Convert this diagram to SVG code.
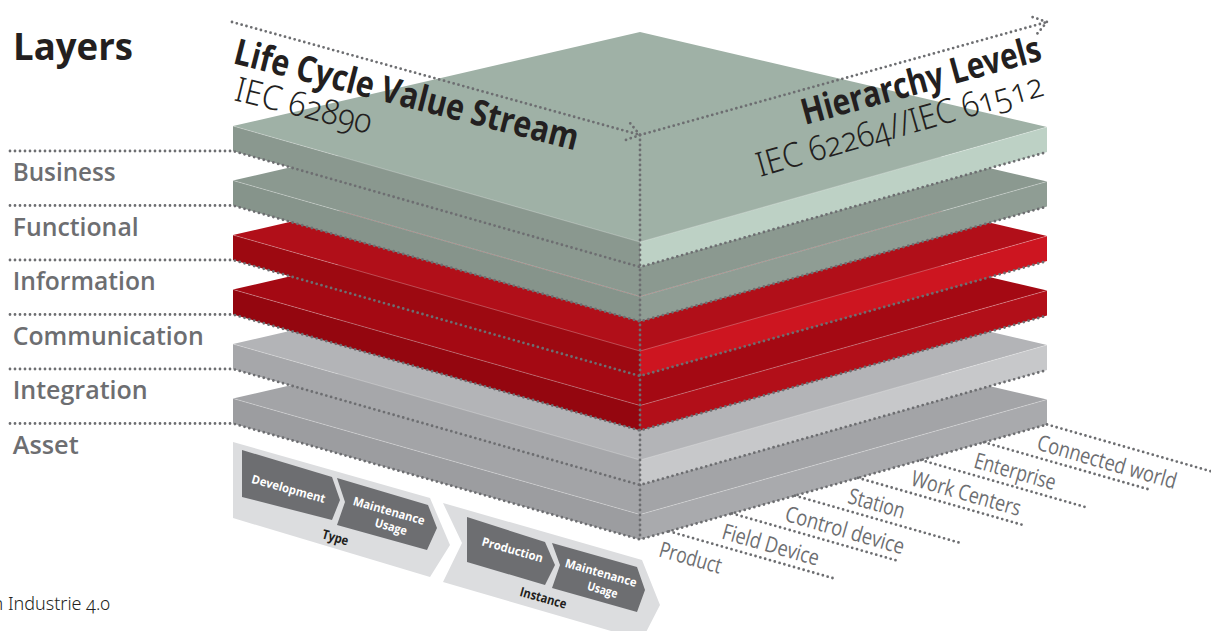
<svg xmlns="http://www.w3.org/2000/svg" width="1211" height="631" viewBox="0 0 1211 631">
  <style>
    text { font-family: "Open Sans", "Noto Sans", "Liberation Sans", sans-serif; }
    .business .t { fill: #9fb1a6; } .business .l { fill: #8a988f; } .business .r { fill: #bdd1c5; }
    .functional .t { fill: #8b9990; } .functional .l { fill: #86948b; } .functional .r { fill: #8f9d94; }
    .information .t { fill: #b10f19; } .information .l { fill: #9d0911; } .information .r { fill: #cd1520; }
    .communication .t { fill: #a40913; } .communication .l { fill: #94060f; } .communication .r { fill: #b20f19; }
    .integration .t { fill: #b3b4b7; } .integration .l { fill: #a6a7aa; } .integration .r { fill: #c7c8ca; }
    .asset .t { fill: #a3a4a7; } .asset .l { fill: #9c9da0; } .asset .r { fill: #a9aaad; }
    .edge { fill: none; stroke: #ffffff; stroke-opacity: 0.35; stroke-width: 0.8; }
    .dot { fill: none; stroke: #6d6e71; stroke-width: 2.8; stroke-linecap: round; stroke-linejoin: round; stroke-dasharray: 0 5; }
    .layer-label { font-size: 25px; font-weight: 600; fill: #6d6e71; }
    .level-label { font-size: 22px; font-weight: 500; fill: #6d6e71; }
    .heading { font-size: 36px; font-weight: 700; fill: #231f20; }
    .norm { font-family: "Noto Sans", "Open Sans", sans-serif; font-size: 34px; font-weight: 300; fill: #231f20; font-variant-numeric: oldstyle-nums; }
    .band { fill: #dcdddf; }
    .step { fill: #6d6e71; }
    .step-text { font-size: 12px; font-weight: 700; fill: #ffffff; text-anchor: middle; }
    .band-text { font-size: 13px; font-weight: 700; fill: #231f20; text-anchor: middle; }
    .source { font-family: "Noto Sans", "Open Sans", sans-serif; font-size: 18px; font-weight: 300; fill: #231f20; font-variant-numeric: oldstyle-nums; }
  </style>
  <defs>
    <marker id="dot-arrow" markerUnits="userSpaceOnUse" orient="auto" refX="0" refY="0" markerWidth="30" markerHeight="30" overflow="visible">
      <path class="dot" d="M-12.5,-8.6 L0,0 L-12.5,8.6"/>
    </marker>
  </defs>

  <!-- Layer slabs, painted from the bottom up; each slab is top, left and right face -->
  <g id="layer-asset" class="asset" transform="translate(0,272.5)">
    <polygon class="t" points="640,32 1047,127 640,242 233,126"/>
    <polygon class="l" points="233,126 640,242 640,267 233,151"/>
    <polygon class="r" points="640,242 1047,127 1047,152 640,267"/>
    <polyline class="edge" points="233,126 640,242 1047,127"/>
  </g>
  <g id="layer-integration" class="integration" transform="translate(0,218)">
    <polygon class="t" points="640,32 1047,127 640,242 233,126"/>
    <polygon class="l" points="233,126 640,242 640,267 233,151"/>
    <polygon class="r" points="640,242 1047,127 1047,152 640,267"/>
    <polyline class="edge" points="233,126 640,242 1047,127"/>
  </g>
  <g id="layer-communication" class="communication" transform="translate(0,163.5)">
    <polygon class="t" points="640,32 1047,127 640,242 233,126"/>
    <polygon class="l" points="233,126 640,242 640,267 233,151"/>
    <polygon class="r" points="640,242 1047,127 1047,152 640,267"/>
    <polyline class="edge" points="233,126 640,242 1047,127"/>
  </g>
  <g id="layer-information" class="information" transform="translate(0,109)">
    <polygon class="t" points="640,32 1047,127 640,242 233,126"/>
    <polygon class="l" points="233,126 640,242 640,267 233,151"/>
    <polygon class="r" points="640,242 1047,127 1047,152 640,267"/>
    <polyline class="edge" points="233,126 640,242 1047,127"/>
  </g>
  <g id="layer-functional" class="functional" transform="translate(0,54.5)">
    <polygon class="t" points="640,32 1047,127 640,242 233,126"/>
    <polygon class="l" points="233,126 640,242 640,267 233,151"/>
    <polygon class="r" points="640,242 1047,127 1047,152 640,267"/>
    <polyline class="edge" points="233,126 640,242 1047,127"/>
  </g>
  <g id="layer-business" class="business">
    <polygon class="t" points="640,32 1047,127 640,242 233,126"/>
    <polygon class="l" points="233,126 640,242 640,267 233,151"/>
    <polygon class="r" points="640,242 1047,127 1047,152 640,267"/>
    <polyline class="edge" points="233,126 640,242 1047,127"/>
  </g>

  <!-- Life cycle phases under the cube -->
  <g id="phase-type">
    <polygon class="band" points="233,442 430,498 450,545 430,577 233,518"/>
    <polygon class="step" points="242,450 332,477 340,500 332,520 242,497"/>
    <polygon class="step" points="337,478 428,505 437,528 427,550 337,525 345,502"/>
    <text class="step-text" transform="translate(288.5,489) rotate(15.5)" y="4" textLength="76" lengthAdjust="spacingAndGlyphs">Development</text>
    <text class="step-text" transform="translate(389,511) rotate(16)" y="4" textLength="74" lengthAdjust="spacingAndGlyphs">Maintenance</text>
    <text class="step-text" transform="translate(391,527) rotate(16)" y="4" textLength="33" lengthAdjust="spacingAndGlyphs">Usage</text>
    <text class="band-text" transform="translate(335.5,537) rotate(16)" y="5" textLength="27" lengthAdjust="spacingAndGlyphs">Type</text>
  </g>
  <g id="phase-instance">
    <polygon class="band" points="443,503 642,560 660,605 642,640 443,582 462,543"/>
    <polygon class="step" points="467,517 545,542 555,565 545,585 467,562"/>
    <polygon class="step" points="552,543 637,567 645,590 637,612 552,588 560,565"/>
    <text class="step-text" transform="translate(512.5,550) rotate(16)" y="4" textLength="63" lengthAdjust="spacingAndGlyphs">Production</text>
    <text class="step-text" transform="translate(601,573) rotate(16)" y="4" textLength="74" lengthAdjust="spacingAndGlyphs">Maintenance</text>
    <text class="step-text" transform="translate(602.5,590) rotate(16)" y="4" textLength="31" lengthAdjust="spacingAndGlyphs">Usage</text>
    <text class="band-text" transform="translate(543.5,597.5) rotate(16)" y="5" textLength="48" lengthAdjust="spacingAndGlyphs">Instance</text>
  </g>

  <!-- Dotted guide lines -->
  <g id="connectors">
    <polyline class="dot" points="10,151 233,151 640,267 1047,152"/>
    <polyline class="dot" points="10,151 233,151 640,267 1047,152" transform="translate(0,54.5)"/>
    <polyline class="dot" points="10,151 233,151 640,267 1047,152" transform="translate(0,109)"/>
    <polyline class="dot" points="10,151 233,151 640,267 1047,152" transform="translate(0,163.5)"/>
    <polyline class="dot" points="10,151 233,151 640,267 1047,152" transform="translate(0,218)"/>
    <polyline class="dot" points="10,151 233,151 640,267 1047,152" transform="translate(0,272.5)"/>
    <line class="dot" x1="640" y1="135" x2="640" y2="540"/>
    <line class="dot" x1="232" y1="22" x2="640" y2="135" marker-end="url(#dot-arrow)"/>
    <line class="dot" x1="640" y1="135" x2="1047" y2="22" marker-end="url(#dot-arrow)"/>
    <line class="dot" x1="669" y1="531.3" x2="837" y2="579.3"/>
    <line class="dot" x1="732" y1="513.5" x2="900" y2="561.5"/>
    <line class="dot" x1="795" y1="495.7" x2="963" y2="543.7"/>
    <line class="dot" x1="858" y1="477.9" x2="1026" y2="525.9"/>
    <line class="dot" x1="921" y1="460.1" x2="1089" y2="508.1"/>
    <line class="dot" x1="984" y1="442.3" x2="1152" y2="490.3"/>
    <line class="dot" x1="1047" y1="424.5" x2="1215" y2="472.5"/>
  </g>

  <!-- Layer names -->
  <g id="layer-labels">
    <text x="13" y="60" class="heading" style="font-size:38px" textLength="120" lengthAdjust="spacingAndGlyphs">Layers</text>
    <text class="layer-label" x="12.7" y="181" textLength="103" lengthAdjust="spacingAndGlyphs">Business</text>
    <text class="layer-label" x="12.7" y="235.5" textLength="126" lengthAdjust="spacingAndGlyphs">Functional</text>
    <text class="layer-label" x="12.7" y="290" textLength="143" lengthAdjust="spacingAndGlyphs">Information</text>
    <text class="layer-label" x="12.7" y="344.5" textLength="191" lengthAdjust="spacingAndGlyphs">Communication</text>
    <text class="layer-label" x="12.7" y="399" textLength="135" lengthAdjust="spacingAndGlyphs">Integration</text>
    <text class="layer-label" x="12.7" y="453.5" textLength="66" lengthAdjust="spacingAndGlyphs">Asset</text>
  </g>

  <!-- Axis titles -->
  <g id="axis-life-cycle">
    <text class="heading" transform="translate(232,63) rotate(14.3)" textLength="354" lengthAdjust="spacingAndGlyphs">Life Cycle Value Stream</text>
    <text class="norm" transform="translate(233,100) rotate(14)" textLength="140" lengthAdjust="spacingAndGlyphs">IEC 62890</text>
  </g>
  <g id="axis-hierarchy">
    <text class="heading" transform="translate(805,125) rotate(-15.3)" textLength="247" lengthAdjust="spacingAndGlyphs">Hierarchy Levels</text>
    <text class="norm" transform="translate(760,177) rotate(-16)" textLength="297" lengthAdjust="spacingAndGlyphs">IEC 62264//IEC 61512</text>
  </g>

  <!-- Hierarchy level names -->
  <g id="level-labels">
    <text class="level-label" transform="translate(669,531.3) rotate(16)" x="-4" y="27" textLength="64" lengthAdjust="spacingAndGlyphs">Product</text>
    <text class="level-label" transform="translate(732,513.5) rotate(16)" x="-4" y="27" textLength="100" lengthAdjust="spacingAndGlyphs">Field Device</text>
    <text class="level-label" transform="translate(795,495.7) rotate(16)" x="-4" y="27" textLength="123" lengthAdjust="spacingAndGlyphs">Control device</text>
    <text class="level-label" transform="translate(858,477.9) rotate(16)" x="-4" y="27" textLength="58" lengthAdjust="spacingAndGlyphs">Station</text>
    <text class="level-label" transform="translate(921,460.1) rotate(16)" x="-4" y="27" textLength="113" lengthAdjust="spacingAndGlyphs">Work Centers</text>
    <text class="level-label" transform="translate(984,442.3) rotate(16)" x="-4" y="27" textLength="84" lengthAdjust="spacingAndGlyphs">Enterprise</text>
    <text class="level-label" transform="translate(1047,424.5) rotate(16)" x="-4" y="27" textLength="144" lengthAdjust="spacingAndGlyphs">Connected world</text>
  </g>

  <text class="source" x="-7.5" y="610">n Industrie 4.0</text>
</svg>
